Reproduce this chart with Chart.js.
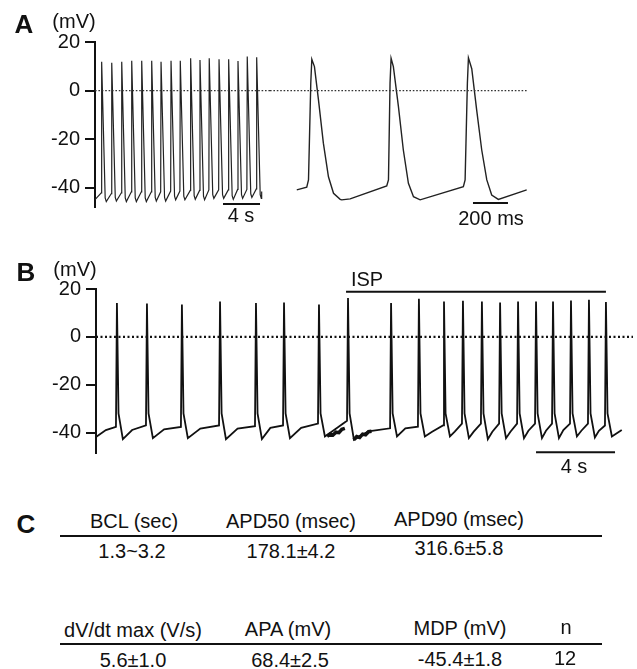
<!DOCTYPE html>
<html>
<head>
<meta charset="utf-8">
<title>Action potentials</title>
<script src="https://cdn.jsdelivr.net/npm/chart.js@4.4.1/dist/chart.umd.min.js"></script>
<style>
body { margin: 0; background: #fff; }
#page { position: relative; width: 637px; height: 669px; overflow: hidden; font-family: 'Liberation Sans', Arial, sans-serif; color: #111; }
canvas { position: absolute; }
.t { position: absolute; font-size: 20px; line-height: 1; white-space: nowrap; transform: translate(-50%, -50%); }
.big { font-weight: bold; font-size: 26px; }
.rule { position: absolute; left: 60px; width: 542px; height: 0; border-top: 2.5px solid #111; }
</style>
</head>
<body>
<div id="page">
  <canvas id="chartA1" width="272" height="230" style="left:0;top:0"></canvas>
  <canvas id="chartA2" width="270" height="230" style="left:270px;top:0"></canvas>
  <canvas id="chartB" width="637" height="220" style="left:0;top:250px"></canvas>

  <div class="t big" style="left:24px;top:24px">A</div>
  <div class="t" style="left:74px;top:21px">(mV)</div>
  <div class="t" style="left:241px;top:215px">4 s</div>
  <div class="t" style="left:491px;top:218px">200 ms</div>

  <div class="t big" style="left:26px;top:272px">B</div>
  <div class="t" style="left:75px;top:269px">(mV)</div>
  <div class="t" style="left:367px;top:279px">ISP</div>
  <div class="t" style="left:574px;top:466px">4 s</div>

  <div class="t big" style="left:26px;top:524px">C</div>
  <div class="t" style="left:134px;top:521px">BCL (sec)</div>
  <div class="t" style="left:291px;top:521px">APD50 (msec)</div>
  <div class="t" style="left:459px;top:519px">APD90 (msec)</div>
  <div class="rule" style="top:535px"></div>
  <div class="t" style="left:132px;top:551px">1.3~3.2</div>
  <div class="t" style="left:291px;top:551px">178.1±4.2</div>
  <div class="t" style="left:459px;top:548px">316.6±5.8</div>

  <div class="t" style="left:133px;top:630px">dV/dt max (V/s)</div>
  <div class="t" style="left:288px;top:629px">APA (mV)</div>
  <div class="t" style="left:460px;top:628px">MDP (mV)</div>
  <div class="t" style="left:566px;top:627px">n</div>
  <div class="rule" style="top:643px"></div>
  <div class="t" style="left:133px;top:660px">5.6±1.0</div>
  <div class="t" style="left:290px;top:660px">68.4±2.5</div>
  <div class="t" style="left:460px;top:659px">-45.4±1.8</div>
  <div class="t" style="left:565px;top:658px">12</div>
</div>

<script>
'use strict';

// ======= DATA =======

var yTicks = [-40, -20, 0, 20];

// A, slow sweep (time in s)
var aSlowT = [0.72, 1.81, 2.89, 3.97, 5.05, 6.13, 7.14, 8.22, 9.22, 10.34, 11.35, 12.35, 13.41, 14.45, 15.46, 16.46, 17.48];
var aSlowPeak = [11.9, 11.5, 11.9, 12.3, 12.3, 12.3, 11.9, 12.3, 12.3, 13.3, 12.6, 13.3, 12.9, 12.9, 12.2, 14.0, 13.7];
var aSlowTrough = [-45.6, -45.4, -45.6, -45.6, -45.6, -45.4, -45.4, -44.9, -44.9, -44.7, -44.9, -44.3, -44.3, -44.7, -44.3, -43.9, -44.3];
var aSlowTakeoff = [-42.0, -42.3, -42.0, -41.6, -41.6, -41.6, -41.6, -41.3, -41.3, -41.0, -41.0, -40.8, -40.8, -40.8, -40.6, -40.6, -40.4];
var aSlowEnds = [[0, -44.8], [18.02, -41.5]];
var aSlowBar = [13.84, 17.84];   // 4 s

// A, fast sweep (time in ms)
var aFastT = [0, 57, 67, 80, 86, 101, 124, 152, 181, 210, 248, 257, 305, 514, 524, 533, 539, 552, 581, 609, 638, 667, 705, 952, 962, 975, 981, 1000, 1028, 1057, 1086, 1114, 1152, 1314];
var aFastV = [-40.8, -39.7, -36.7, 3.0, 12.9, 9.9, -3.8, -21.6, -35.4, -42.2, -44.7, -44.9, -44.5, -39.2, -36.7, 3.0, 13.3, 9.9, -6.6, -24.4, -38.1, -43.6, -44.9, -39.5, -36.7, 3.0, 13.5, 9.0, -7.9, -24.4, -36.7, -42.9, -44.7, -40.8];
var aFastBar = [1007, 1207];    // 200 ms

// B (time in s)
var bT = [1.06, 2.58, 4.35, 6.28, 8.10, 9.52, 11.29, 12.76, 14.94, 16.35, 17.62, 18.58, 19.54, 20.46, 21.37, 22.28, 23.14, 24.05, 24.96, 25.82];
var bPeak = [14.1, 13.9, 13.5, 14.8, 14.1, 14.4, 13.5, 16.2, 14.1, 15.9, 14.8, 15.1, 14.8, 14.4, 14.8, 14.8, 14.8, 15.2, 15.5, 14.6];
var bTrough = [-42.7, -42.3, -42.3, -42.7, -42.7, -42.3, -41.6, -43.0, -41.6, -41.6, -41.6, -42.3, -42.7, -42.3, -42.3, -42.3, -42.3, -41.6, -42.0, -41.6];
var bTakeoff = [-37.6, -37.0, -37.6, -37.0, -37.3, -37.0, -36.2, -35.0, -38.2, -37.5, -37.0, -36.2, -36.2, -36.2, -36.2, -36.2, -36.2, -36.2, -36.2, -37.0];
var bKnee = [-38.9, -38.6, -38.3, -38.3, -38.0, -38.0, -39.0, -39.5, -38.2, -39.6, -39.6, -39.6, -39.6, -39.6, -39.2, -39.2, -38.9, -39.2, -39.2, -38.9];
var bEnds = [[0, -41.8], [0.5, -38.9], [26.62, -38.9]];
var bNoise1 = [[11.70, -41.6], [11.85, -40.6], [12.0, -41.0], [12.15, -39.8], [12.3, -40.0], [12.45, -38.6], [12.6, -38.2]];
var bNoise2 = [[13.05, -43.0], [13.2, -41.6], [13.35, -42.0], [13.5, -40.6], [13.65, -40.9], [13.8, -39.6], [13.95, -39.4]];
var ispOn = [12.66, 25.82];
var bBar = [22.28, 26.28];       // 4 s

// ======= BUILD =======

Chart.defaults.font.family = "'Liberation Sans', Arial, sans-serif";
Chart.defaults.color = '#111';

function pairs(list) {
    return list.map(function (p) { return {x: p[0], y: p[1]}; });
}

function slowTrace() {
    var pts = [{x: aSlowEnds[0][0], y: aSlowEnds[0][1]}];
    for (var i = 0; i < aSlowT.length; i++) {
        pts.push({x: aSlowT[i] - 0.04, y: aSlowTakeoff[i]});
        pts.push({x: aSlowT[i], y: aSlowPeak[i]});
        pts.push({x: aSlowT[i] + 0.38, y: aSlowTrough[i] + 1.5});
        pts.push({x: aSlowT[i] + 0.5, y: aSlowTrough[i]});
    }
    pts.push({x: aSlowEnds[1][0], y: aSlowEnds[1][1]});
    return pts;
}

function fastTrace() {
    return aFastT.map(function (t, i) { return {x: t, y: aFastV[i]}; });
}

function bTrace() {
    var pts = pairs(bEnds.slice(0, 2));
    for (var i = 0; i < bT.length; i++) {
        pts.push({x: bT[i] - 0.05, y: bTakeoff[i]});
        pts.push({x: bT[i], y: bPeak[i]});
        pts.push({x: bT[i] + 0.08, y: -32});
        pts.push({x: bT[i] + 0.3, y: bTrough[i]});
        var next = i + 1 < bT.length ? bT[i + 1] : bEnds[2][0];
        if (i + 1 < bT.length) {
            pts.push({x: bT[i] + 0.3 + 0.4 * (next - bT[i] - 0.35), y: bKnee[i]});
        }
    }
    pts.push({x: bEnds[2][0], y: bEnds[2][1]});
    return pts;
}

function line(data, width, color, dash) {
    return {
        data: data, borderColor: color, borderWidth: width, borderDash: dash || [],
        pointRadius: 0, tension: 0, fill: false, clip: false
    };
}

function yAxis(show, min, width) {
    return {
        display: show, min: min, max: 20,
        afterBuildTicks: function (s) { s.ticks = yTicks.map(function (v) { return {value: v}; }); },
        afterFit: function (s) { s.width = width; },
        grid: { drawOnChartArea: false, drawTicks: true, tickLength: 10, color: '#111', lineWidth: 2 },
        border: { display: true, color: '#111', width: 2 },
        ticks: { font: {size: 20}, color: '#111', padding: 5 }
    };
}

function makeChart(id, datasets, xMin, xMax, yScale, padding) {
    return new Chart(document.getElementById(id), {
        type: 'line',
        data: { datasets: datasets },
        options: {
            responsive: false, animation: false, devicePixelRatio: 1,
            layout: { padding: padding },
            plugins: { legend: { display: false }, tooltip: { enabled: false } },
            scales: {
                x: { type: 'linear', display: false, min: xMin, max: xMax },
                y: yScale
            }
        }
    });
}

// A left: axis at 95px, 4 s per 37px
makeChart('chartA1', [
    line([{x: 0, y: 0}, {x: 18.92, y: 0}], 1.3, '#333', [1.6, 1.8]),
    line(slowTrace(), 1.2, '#222'),
    line([{x: aSlowBar[0], y: -46.6}, {x: aSlowBar[1], y: -46.6}], 2, '#111')
], 0, 18.92, yAxis(true, -48, 95), {left: 0, top: 42, right: 2, bottom: 22.6});

// A right: same voltage scale, no axis
makeChart('chartA2', [
    line([{x: -153, y: 0}, {x: 1322, y: 0}], 1.3, '#333', [1.6, 1.8]),
    line(fastTrace(), 1.4, '#222'),
    line([{x: aFastBar[0], y: -46.2}, {x: aFastBar[1], y: -46.2}], 2, '#111')
], -153, 1390, yAxis(false, -48, 0), {left: 0, top: 42, right: 0, bottom: 22.6});

// B
makeChart('chartB', [
    line([{x: 0, y: 0}, {x: 27.19, y: 0}], 2.2, '#111', [2, 2.5]),
    line(bTrace(), 1.8, '#111'),
    line(pairs(bNoise1), 3.5, '#111'),
    line(pairs(bNoise2), 3.5, '#111'),
    line([{x: ispOn[0], y: 18.8}, {x: ispOn[1], y: 18.8}], 2, '#111'),
    line([{x: bBar[0], y: -48.2}, {x: bBar[1], y: -48.2}], 2, '#111')
], 0, 27.19, yAxis(true, -48.5, 96), {left: 0, top: 39, right: 4, bottom: 13.2});
</script>
</body>
</html>
